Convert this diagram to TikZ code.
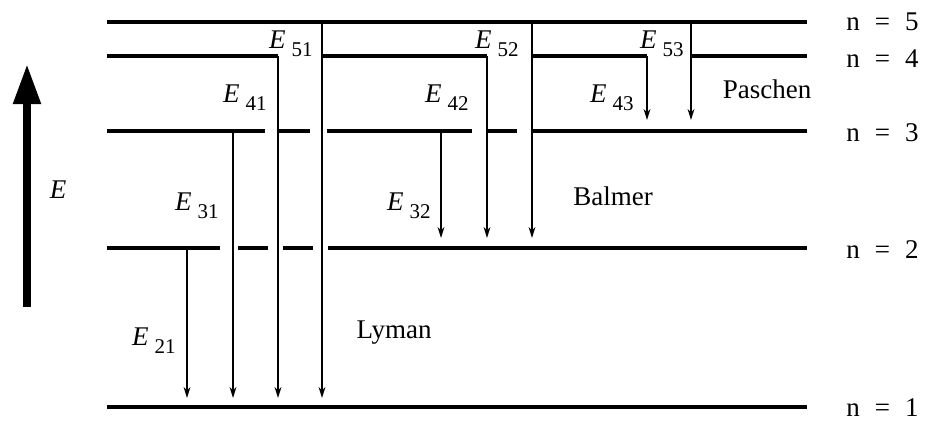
\documentclass[tikz,border=0pt]{standalone}
\usepackage{fontspec}
\setmainfont{Liberation Serif}
\usetikzlibrary{arrows.meta}
\newcommand{\Elev}[1]{\textit{E}\hspace{3pt}\raisebox{-4pt}{\fontsize{10.5}{10.5}\selectfont #1}}
\newcommand{\nlev}[1]{n\hspace{7.5pt}=\hspace{7.5pt}#1}

\begin{document}
\begin{tikzpicture}[x=0.5pt,y=-0.5pt,
  level/.style={line width=1.6pt},
  trans/.style={line width=0.7pt,-{Stealth[length=5.5pt,width=3.4pt]}},
  elab/.style={anchor=base east,inner sep=0pt,font=\fontsize{13.5}{16}\selectfont},
  nlab/.style={anchor=west,inner sep=0pt,font=\fontsize{13.5}{16}\selectfont},
  series/.style={inner sep=0pt,font=\fontsize{13.5}{16}\selectfont}]

\useasboundingbox (0,0) rectangle (930,420);

% energy axis
\draw[line width=4pt,-{Triangle[length=20pt,width=13pt]}] (27,307) -- (27,64);
\node[font=\fontsize{13.5}{16}\selectfont\itshape] (eaxis) at (58,190) {E};

% levels
\draw[level] (107,22) -- (807,22);
\draw[level] (107,56) -- (278,56) (322,56) -- (487,56) (533,56) -- (647,56) (692,56) -- (807,56);
\draw[level] (107,131) -- (265,131) (277,131) -- (310,131) (327,131) -- (472,131)
  (487,131) -- (517,131) (533,131) -- (807,131);
\draw[level] (107,248) -- (220,248) (238,248) -- (268,248) (283,248) -- (313,248) (328,248) -- (807,248);
\draw[level] (107,407) -- (807,407);

\node[nlab] (n5) at (846,22) {\nlev{5}};
\node[nlab] (n4) at (846,59) {\nlev{4}};
\node[nlab] (n3) at (846,133) {\nlev{3}};
\node[nlab] (n2) at (846,250) {\nlev{2}};
\node[nlab] (n1) at (846,408) {\nlev{1}};

% Lyman
\coordinate (a21) at (187,248);  \coordinate (b21) at (187,398);
\coordinate (a31) at (233,131);  \coordinate (b31) at (233,398);
\coordinate (a41) at (278,56);   \coordinate (b41) at (278,398);
\coordinate (a51) at (322,22);   \coordinate (b51) at (322,398);
\draw[trans] (a21) -- (b21);
\draw[trans] (a31) -- (b31);
\draw[trans] (a41) -- (b41);
\draw[trans] (a51) -- (b51);
\node[elab] (e21) at (176,345) {\Elev{21}};
\node[elab] (e31) at (219,210) {\Elev{31}};
\node[elab] (e41) at (267,102) {\Elev{41}};
\node[elab] (e51) at (313,48) {\Elev{51}};
\node[series] (lyman) at (394,333) {Lyman};

% Balmer
\coordinate (a32) at (441,131);  \coordinate (b32) at (441,238);
\coordinate (a42) at (487,56);   \coordinate (b42) at (487,238);
\coordinate (a52) at (532,22);   \coordinate (b52) at (532,238);
\draw[trans] (a32) -- (b32);
\draw[trans] (a42) -- (b42);
\draw[trans] (a52) -- (b52);
\node[elab] (e32) at (431,210) {\Elev{32}};
\node[elab] (e42) at (469,102) {\Elev{42}};
\node[elab] (e52) at (519,48) {\Elev{52}};
\node[series] (balmer) at (613,196) {Balmer};

% Paschen
\coordinate (a43) at (647,56);   \coordinate (b43) at (647,120);
\coordinate (a53) at (691,22);   \coordinate (b53) at (691,120);
\draw[trans] (a43) -- (b43);
\draw[trans] (a53) -- (b53);
\node[elab] (e43) at (634,102) {\Elev{43}};
\node[elab] (e53) at (684,48) {\Elev{53}};
\node[series] (paschen) at (767,89) {Paschen};

\end{tikzpicture}
\end{document}
